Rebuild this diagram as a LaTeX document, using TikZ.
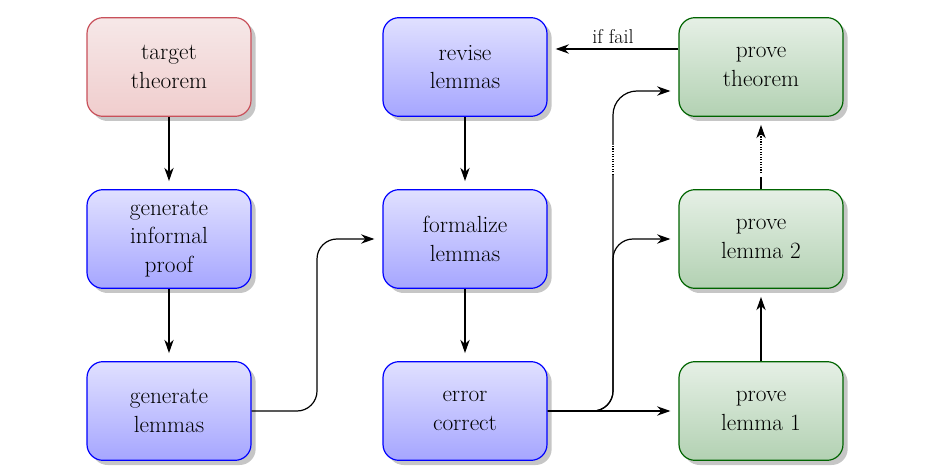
\documentclass[tikz,border=0pt]{standalone}
\usepackage{tikz}
\usetikzlibrary{shadows,arrows.meta}

\begin{document}
\begin{tikzpicture}[x=0.75pt,y=0.75pt,yscale=-1,xscale=1,
  box/.style={rounded corners=12pt,minimum width=123pt,minimum height=74pt,align=center,
    font=\fontsize{17.5}{21.5}\selectfont,line width=0.9pt,
    drop shadow={opacity=0.45,shadow xshift=3.5pt,shadow yshift=-3.5pt}},
  redbox/.style={box,draw={rgb,255:red,200;green,80;blue,90},top color={rgb,255:red,246;green,232;blue,232},bottom color={rgb,255:red,240;green,205;blue,205}},
  bluebox/.style={box,draw=blue,top color=blue!12,bottom color=blue!35},
  greenbox/.style={box,draw={rgb,255:red,0;green,100;blue,0},top color=green!40!black!10,bottom color=green!40!black!30},
  arr/.style={-{Stealth[length=10pt,width=7pt]},line width=0.9pt,shorten >=6pt}]
\useasboundingbox (0,0) rectangle (935,470);

%boxes
\node[redbox] (target) at (169,67) {target\\theorem};
\node[bluebox] (informal) at (169,239) {generate\\informal\\proof};
\node[bluebox] (genlem) at (169,411) {generate\\lemmas};
\node[bluebox] (revise) at (465,67) {revise\\lemmas};
\node[bluebox] (formal) at (465,239) {formalize\\lemmas};
\node[bluebox] (correct) at (465,411) {error\\correct};
\node[greenbox] (thm) at (761,67) {prove\\theorem};
\node[greenbox] (lem2) at (761,239) {prove\\lemma 2};
\node[greenbox] (lem1) at (761,411) {prove\\lemma 1};

%connectors
\draw[arr] (target) -- (informal);
\draw[arr] (informal) -- (genlem);
\draw[arr] (revise) -- (formal);
\draw[arr] (formal) -- (correct);
\draw[arr,rounded corners=15pt] (genlem.east) -| (317,239) -- (formal.west);
\draw[arr] (correct.east) -- (lem1.west);
\draw[arr,rounded corners=15pt] (correct.east) -| (613,239) -- (lem2.west);
\draw[line width=0.9pt,rounded corners=15pt] (correct.east) -| (613,175);
\draw[line width=0.9pt,densely dotted] (613,175) -- (613,145);
\draw[arr,rounded corners=18pt] (613,145) |- ([yshift=18]thm.west);
\draw[arr] (lem1) -- (lem2);
\draw[line width=0.9pt] (lem2.north) -- ++(0,-12);
\draw[arr,densely dotted] ([yshift=-12]lem2.north) -- (thm.south);
\draw[arr] (thm.west|-49,49) -- node[above,font=\fontsize{15}{18}\selectfont] {if fail} (revise.east|-49,49);
\end{tikzpicture}
\end{document}
